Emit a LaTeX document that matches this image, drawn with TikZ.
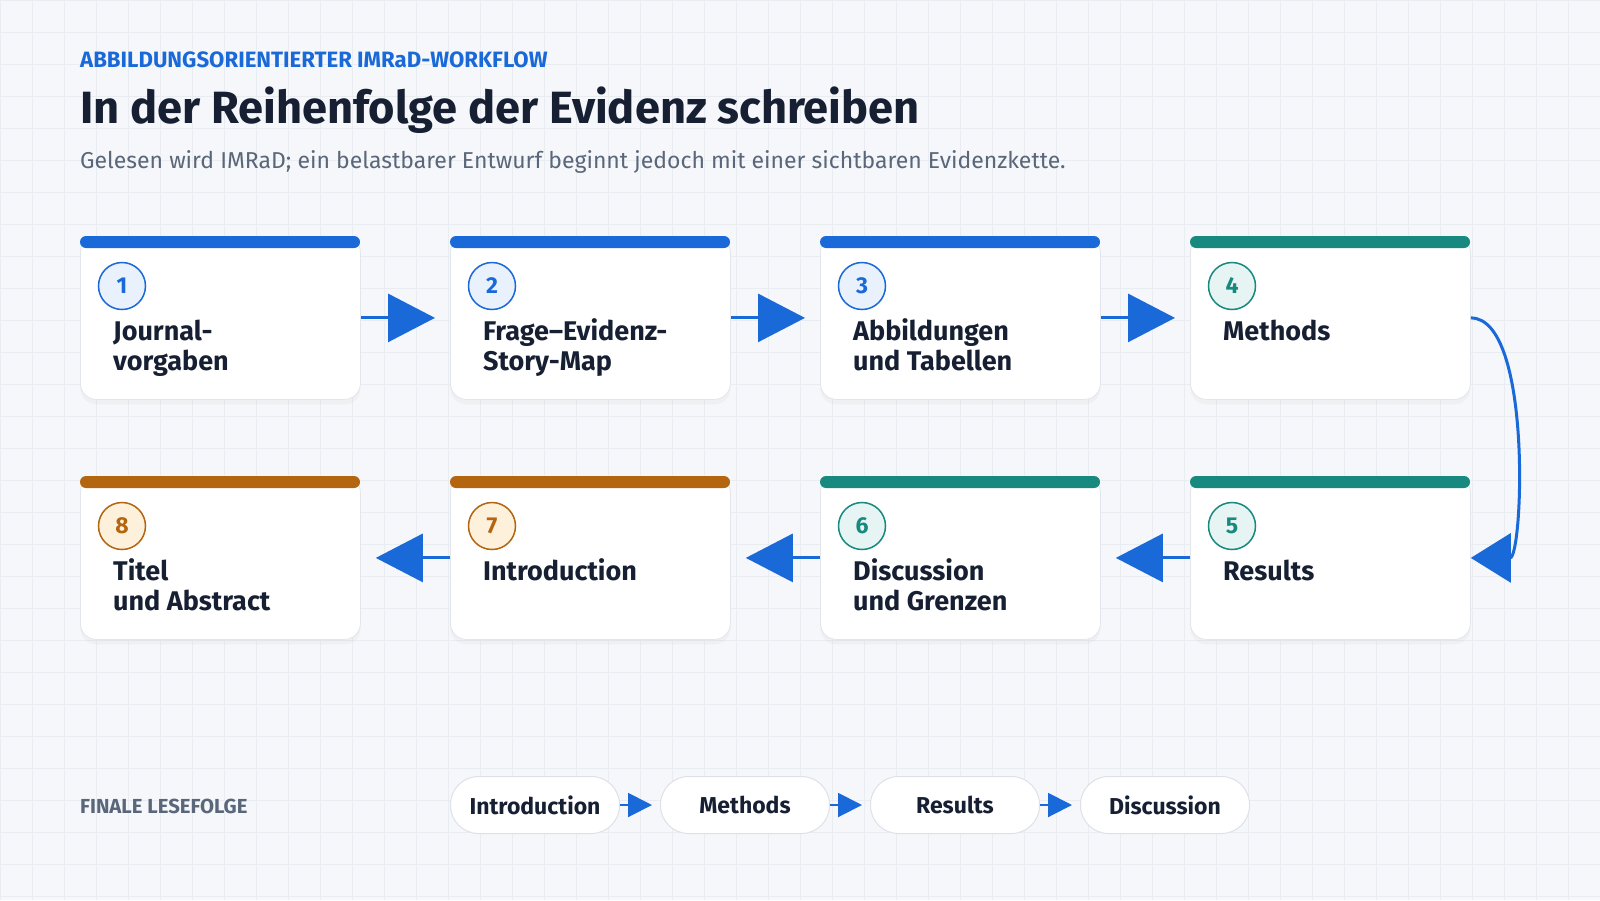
\documentclass[tikz,border=0pt]{standalone}
\usepackage{fontspec}
\setmainfont{Fira Sans}
\usetikzlibrary{arrows.meta,shadows}
\definecolor{bg}{HTML}{F5F7FA}
\definecolor{gridc}{HTML}{E9EDF2}
\definecolor{ink}{HTML}{172033}
\definecolor{sub}{HTML}{5A6679}
\definecolor{wfblue}{HTML}{1A69D9}
\definecolor{wfbluel}{HTML}{E9F1FD}
\definecolor{wfteal}{HTML}{17897F}
\definecolor{wfteall}{HTML}{E6F5F3}
\definecolor{wforange}{HTML}{B4650F}
\definecolor{wforangel}{HTML}{FDF1DC}
\definecolor{cardline}{HTML}{E2E6EC}
\definecolor{pillline}{HTML}{DDE2E8}
\tikzset{
  card/.style={draw=cardline, line width=0.8pt, fill=white, rounded corners=16pt,
    minimum width=280pt, minimum height=163pt, inner sep=0pt,
    drop shadow={opacity=0.06, shadow xshift=0pt, shadow yshift=-5pt}},
  numbadge/.style={circle, line width=1.5pt, minimum size=47pt, inner sep=0pt,
    font=\bfseries\fontsize{23}{23}\selectfont},
  cardtext/.style={inner sep=0pt, text=ink,
    font=\bfseries\fontsize{27}{30}\selectfont},
  flow/.style={draw=wfblue, line width=3pt, -{Triangle[length=47pt,width=48pt]}},
  pill/.style={draw=pillline, line width=1pt, fill=white, rounded corners=28pt,
    minimum width=169pt, minimum height=57pt, inner sep=0pt, text=ink,
    font=\bfseries\fontsize{23}{23}\selectfont},
  pillflow/.style={draw=wfblue, line width=2pt, -{Triangle[length=24pt,width=24pt]}, shorten >=8pt},
}
\newcommand{\wfcard}[6]{%
  \node[card, anchor=north west] (c#1) at (#2,#3) {};
  \fill[#4, rounded corners=6pt] (#2,#3) rectangle ++(280,12);
  \node[numbadge, draw=#4, fill=#5, text=#4] (n#1) at (#2+42,#3+50) {#1};
  \node[cardtext, anchor=base west] (t#1) at (#2+33,#3+104) {\vtop{#6}};
}
\begin{document}
\begin{tikzpicture}[x=1pt,y=-1pt]
\useasboundingbox (0,0) rectangle (1600,900);
\fill[bg] (0,0) rectangle (1600,900);
\foreach \gx in {0,32,...,1600} \draw[gridc, line width=0.8pt] (\gx,0) -- (\gx,900);
\foreach \gy in {0,32,...,900} \draw[gridc, line width=0.8pt] (0,\gy) -- (1600,\gy);

\node[anchor=base west, inner sep=0pt, text=wfblue, font=\bfseries\fontsize{22.2}{26}\selectfont] (eyebrow) at (80,67.3) {ABBILDUNGSORIENTIERTER IMRaD-WORKFLOW};
\node[anchor=base west, inner sep=0pt, text=ink, font=\bfseries\fontsize{45.2}{50}\selectfont] (title) at (80,123.3) {In der Reihenfolge der Evidenz schreiben};
\node[anchor=base west, inner sep=0pt, text=sub, font=\fontsize{23}{27}\selectfont] (subtitle) at (80,168.3) {Gelesen wird IMRaD; ein belastbarer Entwurf beginnt jedoch mit einer sichtbaren Evidenzkette.};

\wfcard{1}{80}{236}{wfblue}{wfbluel}{\hbox{Journal-}\hbox{vorgaben}}
\wfcard{2}{450}{236}{wfblue}{wfbluel}{\hbox{Frage–Evidenz-}\hbox{Story-Map}}
\wfcard{3}{820}{236}{wfblue}{wfbluel}{\hbox{Abbildungen}\hbox{und Tabellen}}
\wfcard{4}{1190}{236}{wfteal}{wfteall}{\hbox{Methods}}
\wfcard{5}{1190}{476}{wfteal}{wfteall}{\hbox{Results}}
\wfcard{6}{820}{476}{wfteal}{wfteall}{\hbox{Discussion}\hbox{und Grenzen}}
\wfcard{7}{450}{476}{wforange}{wforangel}{\hbox{Introduction}}
\wfcard{8}{80}{476}{wforange}{wforangel}{\hbox{Titel}\hbox{und Abstract}}

\draw[flow, shorten >=15pt] (c1.east) -- (c2.west);
\draw[flow, shorten >=15pt] (c2.east) -- (c3.west);
\draw[flow, shorten >=15pt] (c3.east) -- (c4.west);
\draw[flow, -{Triangle[length=40pt,width=49pt]}] (c4.east) .. controls +(62,0) and +(52,0) .. (c5.east);
\draw[flow, shorten >=15pt] (c5.west) -- (c6.east);
\draw[flow, shorten >=15pt] (c6.west) -- (c7.east);
\draw[flow, shorten >=15pt] (c7.west) -- (c8.east);

\node[anchor=base west, inner sep=0pt, text=sub, font=\bfseries\fontsize{20.3}{24}\selectfont] (finale) at (80,813.3) {FINALE LESEFOLGE};
\node[pill] (p1) at (535,805) {Introduction};
\node[pill] (p2) at (745,805) {Methods};
\node[pill] (p3) at (955,805) {Results};
\node[pill] (p4) at (1165,805) {Discussion};
\draw[pillflow] (p1) -- (p2);
\draw[pillflow] (p2) -- (p3);
\draw[pillflow] (p3) -- (p4);
\end{tikzpicture}
\end{document}
